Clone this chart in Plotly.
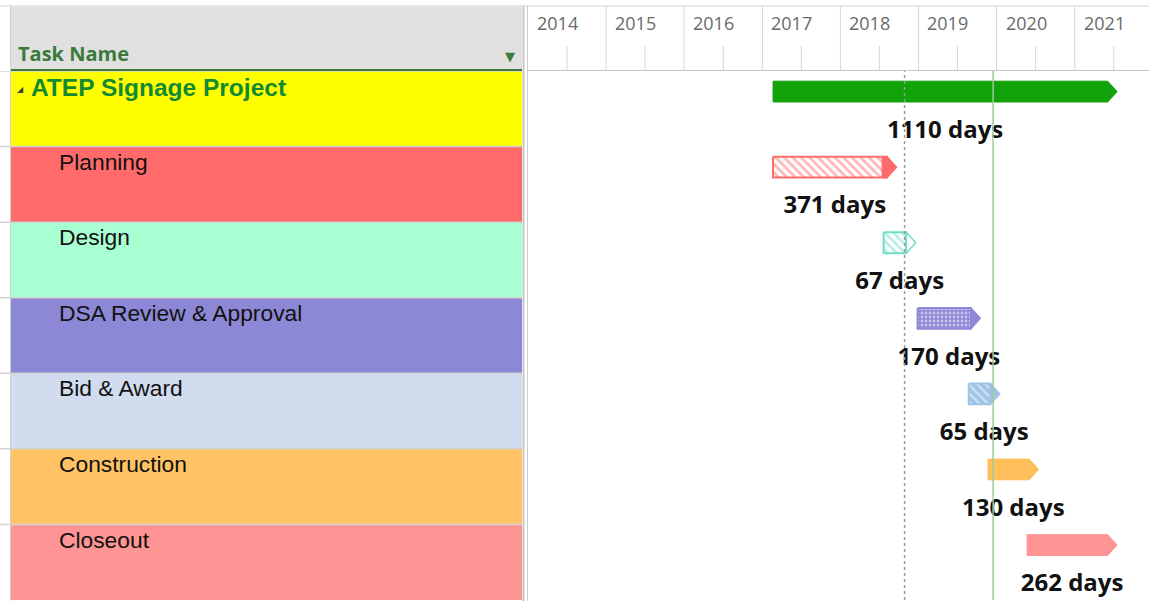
import pandas as pd
import plotly.graph_objects as go

# ---- data ----
TASKS = [
    "ATEP Signage Project",
    "Planning",
    "Design",
    "DSA Review & Approval",
    "Bid & Award",
    "Construction",
    "Closeout",
]
STARTS = ["2017-02-20", "2017-02-20", "2018-07-22", "2018-12-28",
          "2019-08-24", "2019-11-22", "2020-05-23"]
FINISHES = ["2021-07-18", "2018-09-20", "2018-12-19", "2019-10-17",
            "2020-01-16", "2020-07-16", "2021-07-18"]
DURATIONS = [1110, 371, 67, 170, 65, 130, 262]
YEARS = [2014, 2015, 2016, 2017, 2018, 2019, 2020, 2021]
STATUS_DATE = "2018-10-28"
CURRENT_DATE = "2019-12-16"

# ---- styles ----
ROW_COLORS = ["#FFFF00", "#FF6B6B", "#A8FFD2", "#8C88D6",
              "#D1DCEF", "#FFC264", "#FF9494"]
BAR_STYLES = [
    dict(color="#12A20A", pattern=None),
    dict(color="#FF6B6B", pattern=dict(shape="\\", fgcolor="#FF6B6B", bgcolor="white", size=6, solidity=0.45), tip="solid", k=1.5),
    dict(color="#72DDC3", pattern=dict(shape="\\", fgcolor="#72DDC3", bgcolor="white", size=6, solidity=0.45), tip="outline", k=1.0),
    dict(color="#8F88D8", pattern=dict(shape=".", fgcolor="white", bgcolor="#8F88D8", size=4, solidity=0.4), tip="solid", k=1.0),
    dict(color="#9DC3E6", pattern=dict(shape="\\", fgcolor="white", bgcolor="#9DC3E6", size=6, solidity=0.4), tip="solid", k=1.0),
    dict(color="#FFC05C", pattern=None),
    dict(color="#FF9494", pattern=None),
]

W, H = 1149, 601
T, B = 71, 1
PLOT_H = H - T - B
TIP = pd.Timedelta(days=44)
BAR_TOP, BAR_BOT, LABEL_Y = 0.135, 0.41, 0.805
ARIAL = "Arial, Liberation Sans, sans-serif"
SEGOE = "Segoe UI, Open Sans, sans-serif"


def px(p):
    return p / W


def py(p):
    return (H - B - p) / PLOT_H


fig = go.Figure()

for i, (s, f) in enumerate(zip(STARTS, FINISHES)):
    s, f = pd.Timestamp(s), pd.Timestamp(f)
    st = BAR_STYLES[i]
    top, bot = i + BAR_TOP, i + BAR_BOT
    mid = (top + bot) / 2
    if st["pattern"] is None:
        fig.add_trace(go.Scatter(
            x=[s, f - TIP, f, f - TIP, s, s],
            y=[top, top, mid, bot, bot, top],
            fill="toself", fillcolor=st["color"], mode="lines",
            line=dict(color=st["color"], width=1), hoverinfo="skip", showlegend=False,
        ))
    else:
        fig.add_trace(go.Scatter(
            x=[s, f - TIP, f - TIP, s, s],
            y=[top, top, bot, bot, top],
            fill="toself", fillcolor=st["pattern"]["bgcolor"], fillpattern=st["pattern"],
            mode="lines", line=dict(color=st["color"], width=2),
            hoverinfo="skip", showlegend=False,
        ))
        k = st["k"]
        tip_fill = st["color"] if st["tip"] == "solid" else "white"
        fig.add_trace(go.Scatter(
            x=[f - TIP * k, f - TIP, f, f - TIP, f - TIP * k, f - TIP * k],
            y=[top, top, mid, bot, bot, top],
            fill="toself", fillcolor=tip_fill, mode="lines",
            line=dict(color=st["color"], width=1.5), hoverinfo="skip", showlegend=False,
        ))

# duration labels centred under each bar
mids = [pd.Timestamp(s) + (pd.Timestamp(f) - pd.Timestamp(s)) / 2 for s, f in zip(STARTS, FINISHES)]
fig.add_trace(go.Scatter(
    x=mids, y=[i + LABEL_Y for i in range(len(TASKS))],
    text=[f"<b>{d} days</b>" for d in DURATIONS], mode="text",
    textfont=dict(family=SEGOE, size=24, color="#111111"),
    hoverinfo="skip", showlegend=False,
))

shapes = []
annotations = []

# ---- task table (left) ----
shapes.append(dict(type="rect", xref="paper", yref="paper", x0=px(11), x1=px(522),
                   y0=py(69), y1=py(7), fillcolor="#E0E0E0", line=dict(width=0), layer="below"))
shapes.append(dict(type="line", xref="paper", yref="paper", x0=px(0), x1=px(W),
                   y0=py(6), y1=py(6), line=dict(color="#D0D0D0", width=1)))
for i, c in enumerate(ROW_COLORS):
    shapes.append(dict(type="rect", xref="paper", yref="y", x0=px(11), x1=px(522),
                       y0=i, y1=i + 1, fillcolor=c, line=dict(width=0), layer="below"))
    shapes.append(dict(type="line", xref="paper", yref="y", x0=px(0), x1=px(522),
                       y0=i, y1=i, line=dict(color="#D2D2D2", width=1.5)))
    if i == 0:
        annotations.append(dict(xref="paper", yref="y", x=px(29), y=i + 0.215, text="<b>ATEP Signage Project</b>",
                                showarrow=False, xanchor="left", yanchor="middle",
                                font=dict(family=ARIAL, size=24.5, color="#128A32")))
        annotations.append(dict(xref="paper", yref="y", x=px(15), y=i + 0.24, text="◢",
                                showarrow=False, xanchor="left", yanchor="middle",
                                font=dict(family="DejaVu Sans", size=8, color="#404040")))
    else:
        annotations.append(dict(xref="paper", yref="y", x=px(57), y=i + 0.2, text=TASKS[i],
                                showarrow=False, xanchor="left", yanchor="middle",
                                font=dict(family=ARIAL, size=22.8, color="#111111")))
shapes.append(dict(type="line", xref="paper", yref="paper", x0=px(11), x1=px(522),
                   y0=py(70), y1=py(70), line=dict(color="#3D7A3D", width=2)))
shapes.append(dict(type="line", xref="paper", yref="paper", x0=px(10.5), x1=px(10.5),
                   y0=py(H), y1=py(6), line=dict(color="#D0D0D0", width=1)))
shapes.append(dict(type="line", xref="paper", yref="paper", x0=px(523.5), x1=px(523.5),
                   y0=py(H), y1=py(6), line=dict(color="#C8C8C8", width=2)))
shapes.append(dict(type="line", xref="paper", yref="paper", x0=px(527.5), x1=px(527.5),
                   y0=py(H), y1=py(6), line=dict(color="#D0D0D0", width=1)))
annotations.append(dict(xref="paper", yref="paper", x=px(16), y=py(54), text="<b>Task Name</b>",
                        showarrow=False, xanchor="left", yanchor="middle",
                        font=dict(family=SEGOE, size=20, color="#3B7A3B")))
annotations.append(dict(xref="paper", yref="paper", x=px(510), y=py(57), text="▼",
                        showarrow=False, xanchor="center", yanchor="middle",
                        font=dict(family="DejaVu Sans", size=13, color="#3B7A3B")))

# ---- timeline header ----
shapes.append(dict(type="line", xref="paper", yref="paper", x0=px(527), x1=px(W),
                   y0=py(70.5), y1=py(70.5), line=dict(color="#C8C8C8", width=1)))
for y in YEARS:
    if y > YEARS[0]:
        shapes.append(dict(type="line", xref="x", yref="paper", x0=f"{y}-01-01", x1=f"{y}-01-01",
                           y0=py(70), y1=py(6), line=dict(color="#D6D6D6", width=1)))
    shapes.append(dict(type="line", xref="x", yref="paper", x0=f"{y}-07-02", x1=f"{y}-07-02",
                       y0=py(70), y1=py(46), line=dict(color="#D6D6D6", width=1)))
    annotations.append(dict(xref="x", yref="paper", x=f"{y}-01-01", y=py(23), text=str(y),
                            showarrow=False, xanchor="left", yanchor="middle", xshift=7,
                            font=dict(family=SEGOE, size=18, color="#6A6A6A")))

# status and current date lines
shapes.append(dict(type="line", xref="x", yref="paper", x0=STATUS_DATE, x1=STATUS_DATE,
                   y0=0, y1=1, line=dict(color="#9A9A9A", width=1.5, dash="dot"), layer="above"))
shapes.append(dict(type="line", xref="x", yref="paper", x0=CURRENT_DATE, x1=CURRENT_DATE,
                   y0=0, y1=1, line=dict(color="#9CCB9C", width=1.5), layer="above"))

fig.update_layout(
    width=W, height=H,
    margin=dict(l=0, r=0, t=T, b=B),
    paper_bgcolor="white", plot_bgcolor="white",
    shapes=shapes, annotations=annotations,
    showlegend=False,
)
fig.update_xaxes(type="date", domain=[px(528), 1], range=["2014-01-01", "2021-12-14"],
                 showgrid=False, zeroline=False, showticklabels=False, showline=False, fixedrange=True)
fig.update_yaxes(range=[7, 0], showgrid=False, zeroline=False, showticklabels=False,
                 showline=False, fixedrange=True)

fig.write_html("out.html", config=dict(displayModeBar=False),
               post_script="document.body.style.margin='0';")
